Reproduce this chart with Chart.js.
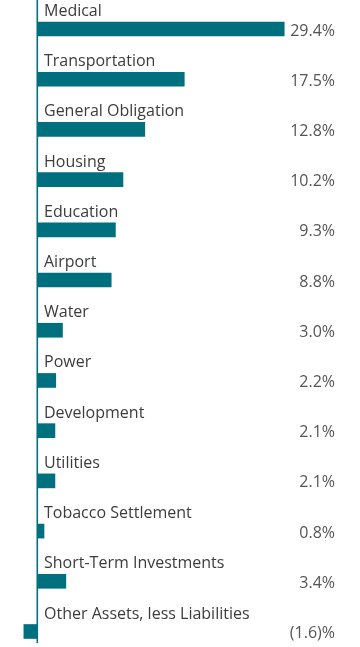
<!DOCTYPE html>
<html>
<head>
<meta charset="utf-8">
<script src="https://cdn.jsdelivr.net/npm/chart.js@4"></script>
<style>
html,body{margin:0;padding:0;background:#fff;}
#wrap{width:360px;height:647px;position:relative;}
</style>
</head>
<body>
<div id="wrap"><canvas id="c" width="360" height="647"></canvas></div>
<script>
const categories = ["Medical","Transportation","General Obligation","Housing","Education","Airport","Water","Power","Development","Utilities","Tobacco Settlement","Short-Term Investments","Other Assets, less Liabilities"];
const values = [29.4,17.5,12.8,10.2,9.3,8.8,3.0,2.2,2.1,2.1,0.8,3.4,-1.6];
const valueLabels = values.map(v => v < 0 ? "(" + Math.abs(v).toFixed(1) + ")%" : v.toFixed(1) + "%");

const TEAL = "#00707f";
const FONT = "'Open Sans', 'Noto Sans', sans-serif";

const labelPlugin = {
  id: "labelPlugin",
  afterDatasetsDraw(chart) {
    const ctx = chart.ctx;
    const xs = chart.scales.x, ys = chart.scales.y;
    const x0 = xs.getPixelForValue(0);
    ctx.save();
    ctx.strokeStyle = TEAL;
    ctx.lineWidth = 1.6;
    ctx.beginPath();
    ctx.moveTo(x0, 0);
    ctx.lineTo(x0, 643);
    ctx.stroke();
    categories.forEach((cat, i) => {
      const yc = ys.getPixelForValue(i);
      ctx.fillStyle = "#3c3c3c";
      ctx.font = "16px " + FONT;
      ctx.textAlign = "left";
      ctx.textBaseline = "alphabetic";
      ctx.fillText(cat, 44, yc - 13);
      ctx.fillStyle = "#555555";
      ctx.font = "16px " + FONT;
      ctx.textAlign = "right";
      ctx.textBaseline = "middle";
      ctx.fillText(valueLabels[i], 335, yc + 2);
    });
    ctx.restore();
  }
};

new Chart(document.getElementById("c"), {
  type: "bar",
  data: {
    labels: categories,
    datasets: [{
      data: values,
      backgroundColor: TEAL,
      borderWidth: 0,
      barThickness: 14,
      clip: false
    }]
  },
  options: {
    indexAxis: "y",
    responsive: false,
    devicePixelRatio: 1,
    animation: false,
    layout: { padding: { top: 29, bottom: 15.5, left: 0, right: 0 } },
    plugins: { legend: { display: false }, tooltip: { enabled: false } },
    scales: {
      x: { display: false, min: -4.44, max: 38.42 },
      y: { display: false, offset: false }
    }
  },
  plugins: [labelPlugin]
});
</script>
</body>
</html>
